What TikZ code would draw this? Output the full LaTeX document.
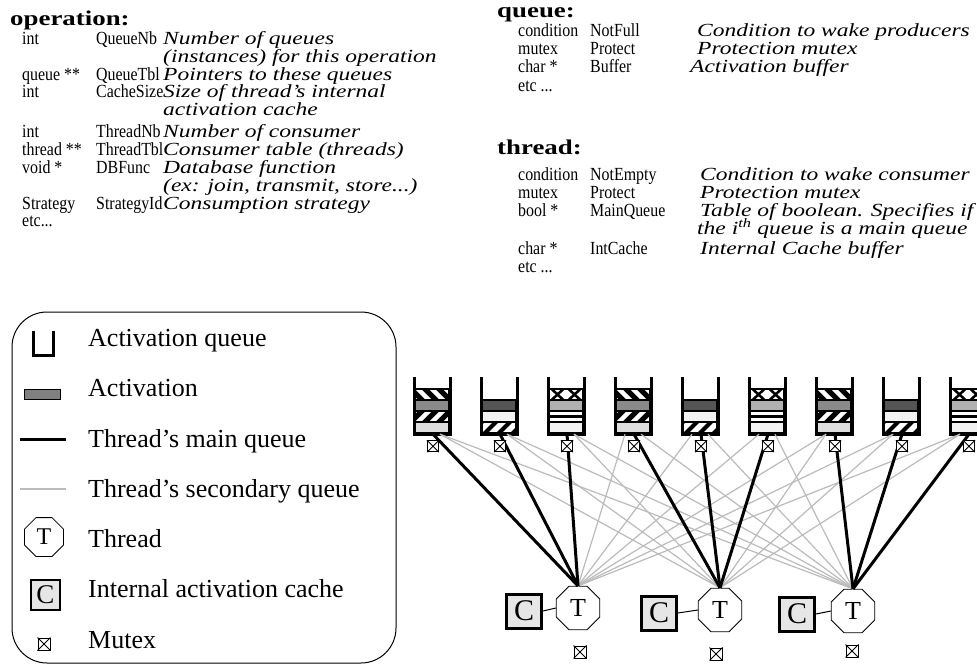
\documentclass[tikz,border=0pt]{standalone}
\usepackage{fontspec}
\setmainfont{Liberation Serif}
\newfontfamily\topf[FakeStretch=0.86]{Liberation Serif}
\newfontfamily\topit[FakeStretch=1.27]{Liberation Serif}
\newfontfamily\tophd[FakeStretch=1.28]{Liberation Serif}
\usetikzlibrary{shapes.geometric}
\definecolor{secgrey}{HTML}{BBBBBB}
\definecolor{cfill}{HTML}{E6E6E6}
\definecolor{actgrey}{HTML}{808080}
\definecolor{gA}{HTML}{8A8A8A}
\definecolor{lA}{HTML}{DEDEDE}
\definecolor{dB}{HTML}{555555}
\definecolor{vl}{HTML}{F2F2F2}
\definecolor{gC}{HTML}{B0B0B0}
\tikzset{
 topt/.style={anchor=base west, inner sep=0pt, font=\topf\fontsize{18.5}{20}\selectfont},
 topi/.style={anchor=base west, inner sep=0pt, font=\topit\itshape\fontsize{18.5}{20}\selectfont},
 toph/.style={anchor=base west, inner sep=0pt, font=\tophd\bfseries\fontsize{21}{22}\selectfont},
 legt/.style={anchor=base west, inner sep=0pt, font=\fontsize{26}{28}\selectfont},
 qbox/.style={rectangle, minimum width=36pt, minimum height=57pt, inner sep=0pt, draw=none},
 thr/.style={regular polygon, regular polygon sides=8, minimum size=47pt, inner sep=0pt, draw, line width=0.8pt, fill=white, font=\fontsize{26}{26}\selectfont},
 cbox/.style={rectangle, draw, line width=3pt, fill=cfill, minimum width=35pt, minimum height=34pt, inner sep=0pt, font=\fontsize{30}{30}\selectfont},
 mtx/.style={rectangle, draw, line width=1pt, fill=white, minimum size=11pt, inner sep=0pt},
 mainln/.style={line width=3pt, black},
 secln/.style={line width=1.2pt, secgrey},
 wall/.style={line width=3pt, miter limit=10},
 slotb/.style={line width=1.2pt},
}
\newcommand\slotrect[3]{\fill[#3] (#1-17,#2) rectangle (#1+17,#2+11);}
\newcommand\slotedge[2]{\draw[slotb] (#1-17,#2) rectangle (#1+17,#2+11);}
% #1 cx #2 ytop #3 bg #4 fg #5 lw #6 dir (1 = \ , 2 = /)
\newcommand\hatchslot[6]{%
 \begin{scope}
 \clip (#1-17,#2) rectangle (#1+17,#2+11);
 \fill[#3] (#1-17,#2) rectangle (#1+17,#2+11);
 \foreach \k in {-30,-16,-2,12,26}{%
  \ifnum#6=1
   \draw[#4, line width=#5] (#1+\k,#2-2) -- (#1+\k+15,#2+13);
  \else
   \draw[#4, line width=#5] (#1+\k,#2+13) -- (#1+\k+15,#2-2);
  \fi}
 \end{scope}}
\newcommand\crossslot[2]{%
 \begin{scope}
 \clip (#1-17,#2) rectangle (#1+17,#2+11);
 \fill[white] (#1-17,#2) rectangle (#1+17,#2+11);
 \foreach \k in {-25.5,-8.5,8.5,25.5}{%
   \draw[black, line width=2.6pt] (#1+\k-8,#2-2) -- (#1+\k+8,#2+13);
   \draw[black, line width=2.6pt] (#1+\k-8,#2+13) -- (#1+\k+8,#2-2);}
 \end{scope}}
\newcommand\mutexsym[1]{\draw[line width=0.8pt] (#1.north west) -- (#1.south east) (#1.north east) -- (#1.south west);}
\begin{document}
\begin{tikzpicture}[x=1pt,y=-1pt]
\useasboundingbox (0,0) rectangle (977,666);
\clip (0,0) rectangle (977,666);
\fill[white] (0,0) rectangle (977,666);

% ---------- top-left text ----------
\node[toph] (hop) at (10,26) {operation:};
\node[topt] (o1a) at (22,45) {int};        \node[topt] (o1b) at (96,45) {QueueNb};    \node[topi] (o1c) at (163,45) {Number of queues};
\node[topi] (o2c) at (163,63) {(instances) for this operation};
\node[topt] (o3a) at (22,81) {queue **};   \node[topt] (o3b) at (96,81) {QueueTbl};   \node[topi] (o3c) at (163,81) {Pointers to these queues};
\node[topt] (o4a) at (22,98) {int};        \node[topt] (o4b) at (96,98) {CacheSize};  \node[topi] (o4c) at (163,98) {Size of thread’s internal};
\node[topi] (o5c) at (163,116) {activation cache};
\node[topt] (o6a) at (22,138) {int};       \node[topt] (o6b) at (96,138) {ThreadNb};  \node[topi] (o6c) at (163,138) {Number of consumer};
\node[topt] (o7a) at (22,156) {thread **}; \node[topt] (o7b) at (96,156) {ThreadTbl}; \node[topi] (o7c) at (163,156) {Consumer table (threads)};
\node[topt] (o8a) at (22,173) {void *};    \node[topt] (o8b) at (96,173) {DBFunc};    \node[topi] (o8c) at (163,173) {Database function};
\node[topi] (o9c) at (163,191) {(ex: join, transmit, store...)};
\node[topt] (o10a) at (22,209) {Strategy}; \node[topt] (o10b) at (96,209) {StrategyId}; \node[topi] (o10c) at (163,209) {Consumption strategy};
\node[topt] (o11a) at (22,226) {etc...};

% ---------- top-right text ----------
\node[toph] (hq) at (497,18) {queue:};
\node[topt] (q1a) at (518,37) {condition}; \node[topt] (q1b) at (590,37) {NotFull}; \node[topi] (q1c) at (697,37) {Condition to wake producers};
\node[topt] (q2a) at (518,55) {mutex};     \node[topt] (q2b) at (590,55) {Protect}; \node[topi] (q2c) at (697,55) {Protection mutex};
\node[topt] (q3a) at (518,73) {char *};    \node[topt] (q3b) at (590,73) {Buffer};  \node[topi] (q3c) at (690,73) {Activation buffer};
\node[topt] (q4a) at (518,92) {etc ...};
\node[toph] (ht) at (497,154) {thread:};
\node[topt] (t1a) at (518,180) {condition}; \node[topt] (t1b) at (590,180) {NotEmpty};  \node[topi] (t1c) at (700,180) {Condition to wake consumer};
\node[topt] (t2a) at (518,198) {mutex};     \node[topt] (t2b) at (590,198) {Protect};   \node[topi] (t2c) at (700,198) {Protection mutex};
\node[topt] (t3a) at (518,216) {bool *};    \node[topt] (t3b) at (590,216) {MainQueue}; \node[topi] (t3c) at (700,216) {Table of boolean. Specifies if};
\node[topi] (t4c) at (697,234) {the i\smash{\textsuperscript{th}} queue is a main queue};
\node[topt] (t5a) at (518,254) {char *};    \node[topt] (t5b) at (590,254) {IntCache};  \node[topi] (t5c) at (700,254) {Internal Cache buffer};
\node[topt] (t6a) at (518,272) {etc ...};

% ---------- legend ----------
\draw[line width=1pt, rounded corners=35pt] (12,312) rectangle (396,663);
\draw[wall] (33,331) -- (33,355) -- (53,355) -- (53,331);
\node[legt] (lg1) at (88,346) {Activation queue};
\node[draw, line width=1pt, fill=actgrey, minimum width=36pt, minimum height=10pt, inner sep=0pt] (lgact) at (42,394) {};
\node[legt] (lg2) at (88,396) {Activation};
\coordinate (lm1) at (20,439); \coordinate (lm2) at (66,439);
\draw[mainln] (lm1) -- (lm2);
\node[legt] (lg3) at (88,447) {Thread’s main queue};
\coordinate (ls1) at (20,489); \coordinate (ls2) at (66,489);
\draw[secln] (ls1) -- (ls2);
\node[legt] (lg4) at (88,497) {Thread’s secondary queue};
\node[thr, minimum size=42pt, font=\fontsize{24}{24}\selectfont] (lgt) at (44,537) {T};
\node[legt] (lg5) at (88,547) {Thread};
\node[cbox, line width=2.5pt, minimum width=29pt, minimum height=30pt, font=\fontsize{27}{27}\selectfont] (lgc) at (45.5,595) {C};
\node[legt] (lg6) at (88,597) {Internal activation cache};
\node[mtx, minimum size=12pt] (lgm) at (44,644) {};
\mutexsym{lgm}
\node[legt] (lg7) at (88,648) {Mutex};

% ---------- queues ----------
\foreach \i in {1,...,9}{%
  \pgfmathsetmacro\cx{432+67*(\i-1)}
  \pgfmathtruncatemacro\typ{mod(\i-1,3)}
  \node[qbox] (q\i) at (\cx,405.5) {};
  \ifcase\typ
    \hatchslot{\cx}{389}{black}{white}{4.5pt}{1}
    \slotrect{\cx}{400}{gA}
    \hatchslot{\cx}{411}{black}{white}{4.5pt}{2}
    \slotrect{\cx}{422}{lA}
    \slotedge{\cx}{389}\slotedge{\cx}{400}\slotedge{\cx}{411}\slotedge{\cx}{422}
  \or
    \slotrect{\cx}{400}{dB}
    \slotrect{\cx}{411}{vl}
    \hatchslot{\cx}{422}{white}{black}{4pt}{2}
    \slotedge{\cx}{400}\slotedge{\cx}{411}\slotedge{\cx}{422}
  \or
    \crossslot{\cx}{389}
    \slotrect{\cx}{400}{gC}
    \slotrect{\cx}{411}{white}
    \fill[black] (\cx-17,414.5) rectangle (\cx+17,418);
    \slotrect{\cx}{422}{vl}
    \slotedge{\cx}{389}\slotedge{\cx}{400}\slotedge{\cx}{411}\slotedge{\cx}{422}
  \fi
  \draw[wall] (\cx-18,377) -- (\cx-18,434) -- (\cx+18,434) -- (\cx+18,377);
}

% ---------- threads and caches ----------
\node[thr] (t1) at (578,608) {T};
\node[thr] (t2) at (720,610) {T};
\node[thr] (t3) at (853,611) {T};
\node[cbox] (c1) at (524,611) {C};
\node[cbox] (c2) at (659,613) {C};
\node[cbox] (c3) at (797,614) {C};
\draw[line width=1pt] (c1.east) -- (t1.west);
\draw[line width=1pt] (c2.east) -- (t2.west);
\draw[line width=1pt] (c3.east) -- (t3.west);

% ---------- connectors ----------
\foreach \i in {1,...,9}{%
  \foreach \j in {1,2,3}{%
    \pgfmathtruncatemacro\g{int((\i-1)/3)+1}
    \ifnum\g=\j\else
      \pgfmathsetmacro\sh{\j>\g ? 8 : -8}
      \draw[secln] ([xshift=\sh pt]q\i.south) -- (t\j.north);
    \fi}}
\foreach \i in {1,...,9}{%
  \pgfmathtruncatemacro\g{int((\i-1)/3)+1}
  \draw[mainln] ([xshift=1pt]q\i.south) -- (t\g.north);}

% ---------- mutexes ----------
\foreach \i in {1,...,9}{%
  \node[mtx] (mq\i) at ([xshift=1pt,yshift=-12pt]q\i.south) {};
  \mutexsym{mq\i}}
\node[mtx, minimum size=12pt] (mt1) at (580,652) {};
\node[mtx, minimum size=12pt] (mt2) at (716,654) {};
\node[mtx, minimum size=12pt] (mt3) at (852,651) {};
\mutexsym{mt1}\mutexsym{mt2}\mutexsym{mt3}
\end{tikzpicture}
\end{document}
